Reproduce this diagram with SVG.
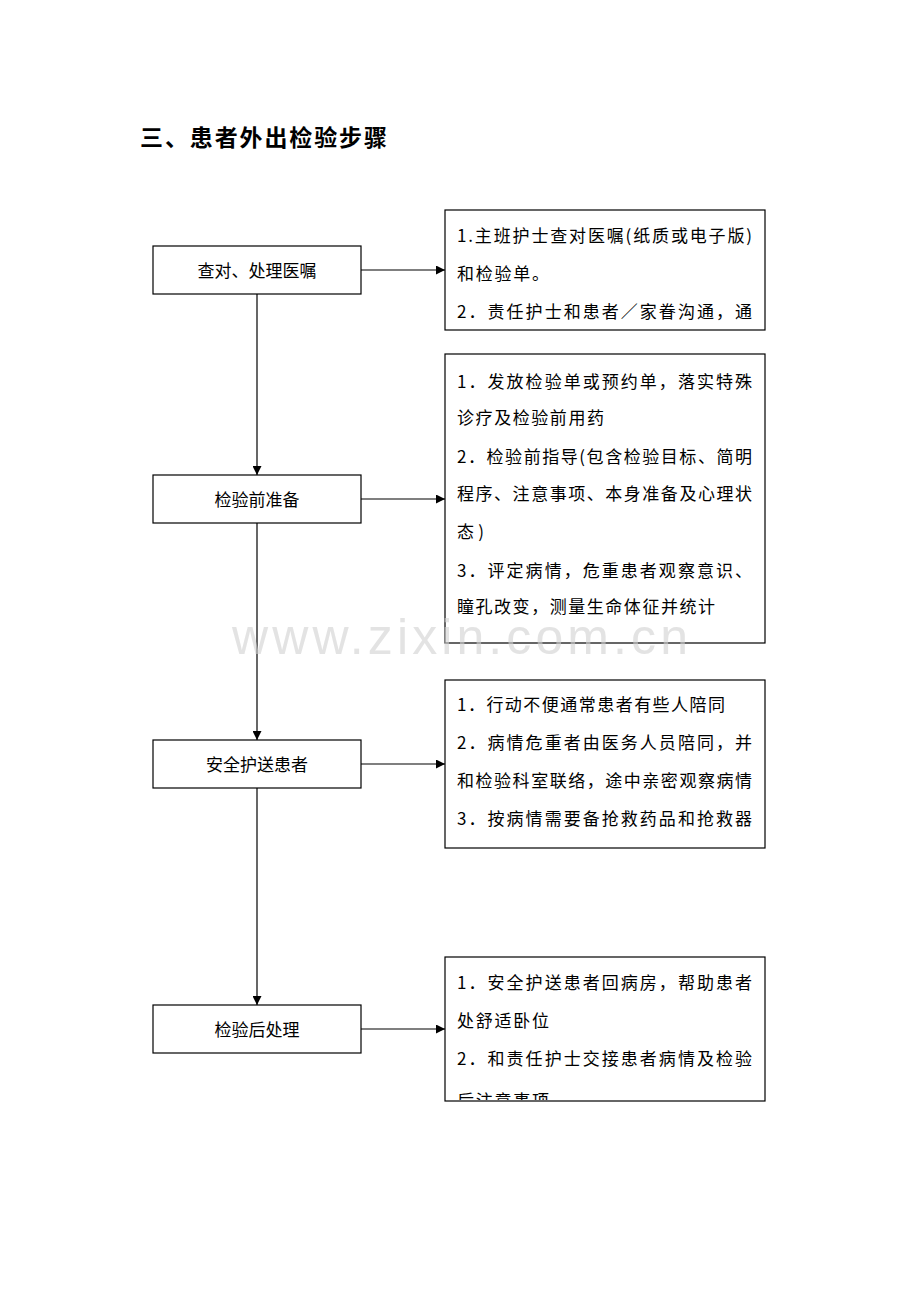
<svg xmlns="http://www.w3.org/2000/svg" width="920" height="1302" viewBox="0 0 920 1302">
<style>
.box{fill:#fff;stroke:#000;stroke-width:1.2}
.lbl{font-family:"Noto Sans CJK SC","Liberation Serif",sans-serif;font-size:17px;fill:#000;text-anchor:middle}
.txt{font-family:"Noto Sans CJK SC","Liberation Serif",sans-serif;font-size:17px;fill:#000}
.ln{stroke:#000;stroke-width:1.2;fill:none}
</style>
<defs>
<marker id="ah" viewBox="0 0 10 10" refX="10" refY="5" markerWidth="9" markerHeight="9" markerUnits="userSpaceOnUse" orient="auto"><path d="M0,0 L10,5 L0,10 Z" fill="#000"/></marker>
<clipPath id="c1"><rect x="446" y="211" width="318" height="118"/></clipPath>
<clipPath id="c2"><rect x="446" y="355" width="318" height="287"/></clipPath>
<clipPath id="c3"><rect x="446" y="681" width="318" height="166"/></clipPath>
<clipPath id="c4"><rect x="446" y="958" width="318" height="142"/></clipPath>
</defs>
<rect width="920" height="1302" fill="#fff"/>
<text x="140" y="146" font-family="Noto Sans CJK SC, sans-serif" font-size="23" font-weight="bold" textLength="247">三、患者外出检验步骤</text>

<g id="connectors">
<line class="ln" x1="257" y1="294" x2="257" y2="475" marker-end="url(#ah)"/>
<line class="ln" x1="257" y1="523" x2="257" y2="740" marker-end="url(#ah)"/>
<line class="ln" x1="257" y1="788" x2="257" y2="1005" marker-end="url(#ah)"/>
<line class="ln" x1="361" y1="270" x2="445" y2="270" marker-end="url(#ah)"/>
<line class="ln" x1="361" y1="499" x2="445" y2="499" marker-end="url(#ah)"/>
<line class="ln" x1="361" y1="764" x2="445" y2="764" marker-end="url(#ah)"/>
<line class="ln" x1="361" y1="1029" x2="445" y2="1029" marker-end="url(#ah)"/>
</g>

<g id="n1"><rect class="box" x="153" y="246" width="208" height="48"/><text class="lbl" x="257" y="277">查对、处理医嘱</text></g>
<g id="n2"><rect class="box" x="153" y="475" width="208" height="48"/><text class="lbl" x="257" y="506">检验前准备</text></g>
<g id="n3"><rect class="box" x="153" y="740" width="208" height="48"/><text class="lbl" x="257" y="771">安全护送患者</text></g>
<g id="n4"><rect class="box" x="153" y="1005" width="208" height="48"/><text class="lbl" x="257" y="1036">检验后处理</text></g>

<g id="r1"><rect class="box" x="445" y="210" width="320" height="120"/>
<g clip-path="url(#c1)">
<text class="txt" x="457" y="242" textLength="295">1.主班护士查对医嘱(纸质或电子版)</text>
<text class="txt" x="457" y="280" textLength="92">和检验单。</text>
<text class="txt" x="457" y="318" textLength="295">2．责任护士和患者／家眷沟通，通</text>
</g></g>

<g id="r2"><rect class="box" x="445" y="354" width="320" height="289"/>
<g clip-path="url(#c2)">
<text class="txt" x="457" y="388" textLength="295">1．发放检验单或预约单，落实特殊</text>
<text class="txt" x="457" y="424" textLength="147">诊疗及检验前用药</text>
<text class="txt" x="457" y="463" textLength="295">2．检验前指导(包含检验目标、简明</text>
<text class="txt" x="457" y="500" textLength="295">程序、注意事项、本身准备及心理状</text>
<text class="txt" x="457" y="538" textLength="27">态)</text>
<text class="txt" x="457" y="577" textLength="295">3．评定病情，危重患者观察意识、</text>
<text class="txt" x="457" y="613" textLength="258">瞳孔改变，测量生命体征并统计</text>
</g></g>

<g id="r3"><rect class="box" x="445" y="680" width="320" height="168"/>
<g clip-path="url(#c3)">
<text class="txt" x="457" y="711" textLength="268">1．行动不便通常患者有些人陪同</text>
<text class="txt" x="457" y="749" textLength="295">2．病情危重者由医务人员陪同，并</text>
<text class="txt" x="457" y="787" textLength="295">和检验科室联络，途中亲密观察病情</text>
<text class="txt" x="457" y="825" textLength="295">3．按病情需要备抢救药品和抢救器</text>
</g></g>

<g id="r4"><rect class="box" x="445" y="957" width="320" height="144"/>
<g clip-path="url(#c4)">
<text class="txt" x="457" y="989" textLength="295">1．安全护送患者回病房，帮助患者</text>
<text class="txt" x="457" y="1027" textLength="92">处舒适卧位</text>
<text class="txt" x="457" y="1065" textLength="295">2．和责任护士交接患者病情及检验</text>
<text class="txt" x="457" y="1107" textLength="92">后注意事项</text>
</g></g>

<text x="460" y="654" font-family="Liberation Sans, sans-serif" font-size="50" fill="#d0d0d0" fill-opacity="0.6" text-anchor="middle" textLength="456">www.zixin.com.cn</text>
</svg>
